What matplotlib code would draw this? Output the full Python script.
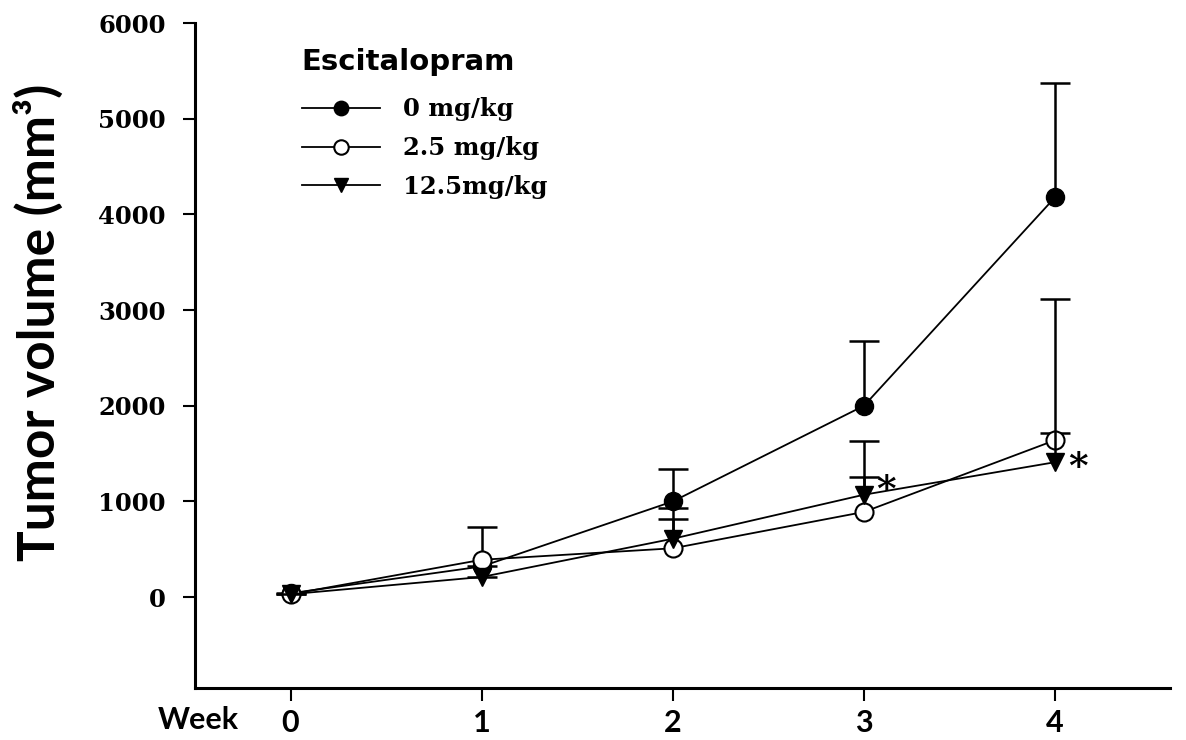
import numpy as np
import matplotlib
matplotlib.use('Agg')
import matplotlib.pyplot as plt

# Data
weeks = [0, 1, 2, 3, 4]
vol_0 = [40, 320, 1000, 2000, 4180]
vol_25 = [30, 390, 510, 890, 1640]
vol_125 = [30, 210, 610, 1070, 1410]
# upper error (SEM), only drawn upwards
err_0 = [0, 0, 340, 680, 1190]
err_25 = [0, 340, 305, 370, 75]
err_125 = [0, 0, 320, 560, 1710]
labels = ['0 mg/kg', '2.5 mg/kg', '12.5mg/kg']
yticks = [0, 1000, 2000, 3000, 4000, 5000, 6000]

sans = 'Lato'
wide_sans = 'DejaVu Sans'
serif = 'DejaVu Serif'

fig = plt.figure(figsize=(11.86, 7.4), dpi=100)
ax = fig.add_axes([0.1644, 0.0703, 0.822, 0.8986])

series = [
    (vol_0, err_0, dict(marker='o', mfc='black', mec='black', ms=13)),
    (vol_25, err_25, dict(marker='o', mfc='white', mec='black', ms=13, mew=1.5)),
    (vol_125, err_125, dict(marker='v', mfc='black', mec='black', ms=13)),
]

handles = []
for i, ((y, e, style), lab) in enumerate(zip(series, labels)):
    yerr = np.vstack([np.zeros(len(e)), e])
    # each series drawn on top of the previous one (bars included)
    eb = ax.errorbar(weeks, y, yerr=yerr, fmt='none', ecolor='black', elinewidth=1.8,
                     capsize=11, capthick=1.8, zorder=2 + 2 * i)
    # only the upper caps are drawn in the original
    eb[1][0].set_visible(False)
    h, = ax.plot(weeks, y, color='black', lw=1.3, zorder=3 + 2 * i, label=lab, **style)
    handles.append(h)

# significance marks
for xi, yi, dy in [(3, vol_125[3], 3), (4, vol_125[4], -3.5)]:
    ax.annotate('*', xy=(xi, yi), xytext=(9, dy), textcoords='offset points',
                fontsize=27, fontfamily=serif, fontweight='bold', ha='left', va='center')

ax.set_xlim(-0.5, 4.6)
ax.set_ylim(-950, 6000)
ax.set_xticks(weeks)
ax.set_yticks(yticks)
ax.set_xticklabels([str(w) for w in weeks], fontfamily=sans, fontweight='bold', fontsize=22)
ax.set_yticklabels([str(t) for t in yticks], fontfamily=serif, fontweight='bold', fontsize=17.5)
ax.tick_params(axis='both', direction='out', length=9, width=1.5, color='black')
ax.tick_params(axis='x', pad=6)
ax.tick_params(axis='y', pad=12)

for side in ['top', 'right']:
    ax.spines[side].set_visible(False)
for side in ['left', 'bottom']:
    ax.spines[side].set_linewidth(2.2)

ax.set_ylabel('Tumor volume (mm³)', fontfamily=sans, fontweight='bold', fontsize=37)
ax.yaxis.set_label_coords(-0.135, 0.55)

ax.text(0.003, -0.048, 'Week', transform=ax.transAxes, ha='center', va='center',
        fontfamily=sans, fontweight='bold', fontsize=22)

# legend title drawn separately so its gap to the entries can be set
ax.text(0.109, 0.941, 'Escitalopram', transform=ax.transAxes, ha='left', va='center',
        fontfamily=wide_sans, fontweight='bold', fontsize=21)
leg = ax.legend(handles=handles, loc='upper left', bbox_to_anchor=(0.1097, 0.888),
                frameon=False, borderpad=0, borderaxespad=0,
                handlelength=3.2, handletextpad=0.95, labelspacing=0.6,
                markerscale=0.8,
                prop=dict(family=serif, weight='bold', size=17.5))

fig.savefig('out.png', dpi=100)
